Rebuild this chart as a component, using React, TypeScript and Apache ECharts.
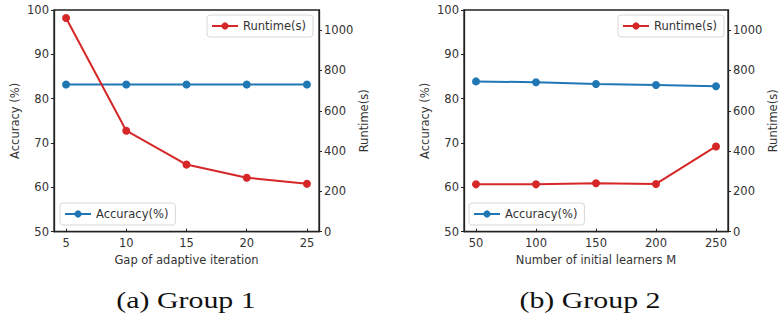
import React, { useEffect, useRef } from "react";
import * as echarts from "echarts";

const gapCategories = [5, 10, 15, 20, 25];
const gapAccuracy = [83.2, 83.2, 83.2, 83.2, 83.2];
const gapRuntime = [1060, 501, 333, 268, 238];

const learnerCategories = [50, 100, 150, 200, 250];
const learnerAccuracy = [83.9, 83.7, 83.3, 83.1, 82.8];
const learnerRuntime = [235, 235, 240, 237, 423];

const accuracyTicks = { min: 50, max: 100, interval: 10 };
const runtimeTicks = { min: 0, max: 1100, interval: 200 };

const RED = "#d62728";
const BLUE = "#1f77b4";
const TXT = "#333";
const FONT = "DejaVu Sans";

export default function App() {
  const ref = useRef<HTMLDivElement>(null);
  useEffect(() => {
    if (!ref.current) return;
    const chart = echarts.init(ref.current, undefined, { renderer: "svg" });

    const pairs = (xs: number[], ys: number[]) => xs.map((x, i) => [x, ys[i]]);

    const xAxisBase = (gridIndex: number, cats: number[], min: number, max: number, name: string) => ({
      type: "value",
      gridIndex,
      min,
      max,
      name,
      nameLocation: "middle",
      nameGap: 18,
      nameTextStyle: { color: TXT, fontFamily: FONT, fontSize: 11.5 },
      axisLine: { show: true, lineStyle: { color: "#222", width: 1.3 } },
      axisTick: { show: true, inside: true, length: 3, customValues: cats, lineStyle: { color: "#222" } },
      axisLabel: { customValues: cats, color: TXT, fontFamily: FONT, fontSize: 11.5, margin: 5 },
      splitLine: { show: false },
    });

    const yAxisBase = (gridIndex: number, pos: "left" | "right", t: any, name: string, nameGap: number) => ({
      type: "value",
      gridIndex,
      position: pos,
      min: t.min,
      max: t.max,
      interval: t.interval,
      name,
      nameLocation: "middle",
      nameRotate: 90,
      nameGap,
      nameTextStyle: { color: TXT, fontFamily: FONT, fontSize: 11.5 },
      axisLine: { show: true, lineStyle: { color: "#222", width: 1.3 } },
      axisTick: { show: true, inside: false, length: 3, lineStyle: { color: "#222" } },
      axisLabel: {
        color: TXT,
        fontFamily: FONT,
        fontSize: 11.5,
        margin: 5,
        showMaxLabel: pos === "left",
        formatter: (v: number) => String(v),
      },
      splitLine: { show: false },
    });

    const lineSeries = (name: string, color: string, xi: number, yi: number, data: number[][]) => ({
      type: "line",
      name,
      xAxisIndex: xi,
      yAxisIndex: yi,
      data,
      symbol: "circle",
      symbolSize: 8,
      lineStyle: { color, width: 2 },
      itemStyle: { color },
      emphasis: { disabled: true },
    });

    const legendBase = (name: string, left: number, top: number) => ({
      data: [name],
      left,
      top,
      orient: "horizontal",
      itemWidth: 26,
      itemHeight: 9,
      itemGap: 6,
      padding: [5, 7, 5, 4],
      borderColor: "#d8d8d8",
      borderWidth: 1,
      borderRadius: 3,
      backgroundColor: "rgba(255,255,255,0.8)",
      selectedMode: false,
      textStyle: { color: TXT, fontFamily: FONT, fontSize: 11.5 },
    });

    const caption = (text: string, x: number) => ({
      type: "text",
      x,
      y: 300,
      scaleX: 1.3,
      style: { text, fill: "#111", font: "23px 'Liberation Serif'", align: "center", verticalAlign: "middle" },
    });

    chart.setOption({
      animation: false,
      backgroundColor: "#fff",
      grid: [
        { left: 54, top: 10, width: 265, height: 221.7, show: true, borderColor: "#222", borderWidth: 1.3, backgroundColor: "transparent" },
        { left: 464, top: 10, width: 265, height: 221.7, show: true, borderColor: "#222", borderWidth: 1.3, backgroundColor: "transparent" },
      ],
      xAxis: [
        xAxisBase(0, gapCategories, 4, 26, "Gap of adaptive iteration"),
        xAxisBase(1, learnerCategories, 40, 260, "Number of initial learners M"),
      ],
      yAxis: [
        yAxisBase(0, "left", accuracyTicks, "Accuracy (%)", 33),
        yAxisBase(0, "right", runtimeTicks, "Runtime(s)", 39),
        yAxisBase(1, "left", accuracyTicks, "Accuracy (%)", 33),
        yAxisBase(1, "right", runtimeTicks, "Runtime(s)", 39),
      ],
      legend: [
        legendBase("Runtime(s)", 207, 15),
        legendBase("Accuracy(%)", 60, 203),
        legendBase("Runtime(s)", 618, 15),
        legendBase("Accuracy(%)", 469, 203),
      ],
      series: [
        lineSeries("Accuracy(%)", BLUE, 0, 0, pairs(gapCategories, gapAccuracy)),
        lineSeries("Runtime(s)", RED, 0, 1, pairs(gapCategories, gapRuntime)),
        lineSeries("Accuracy(%)", BLUE, 1, 2, pairs(learnerCategories, learnerAccuracy)),
        lineSeries("Runtime(s)", RED, 1, 3, pairs(learnerCategories, learnerRuntime)),
      ],
      graphic: [caption("(a) Group 1", 186), caption("(b) Group 2", 590)],
    });
    return () => chart.dispose();
  }, []);
  return <div ref={ref} style={{ position: "fixed", left: 0, top: 0, width: 780, height: 324 }} />;
}
